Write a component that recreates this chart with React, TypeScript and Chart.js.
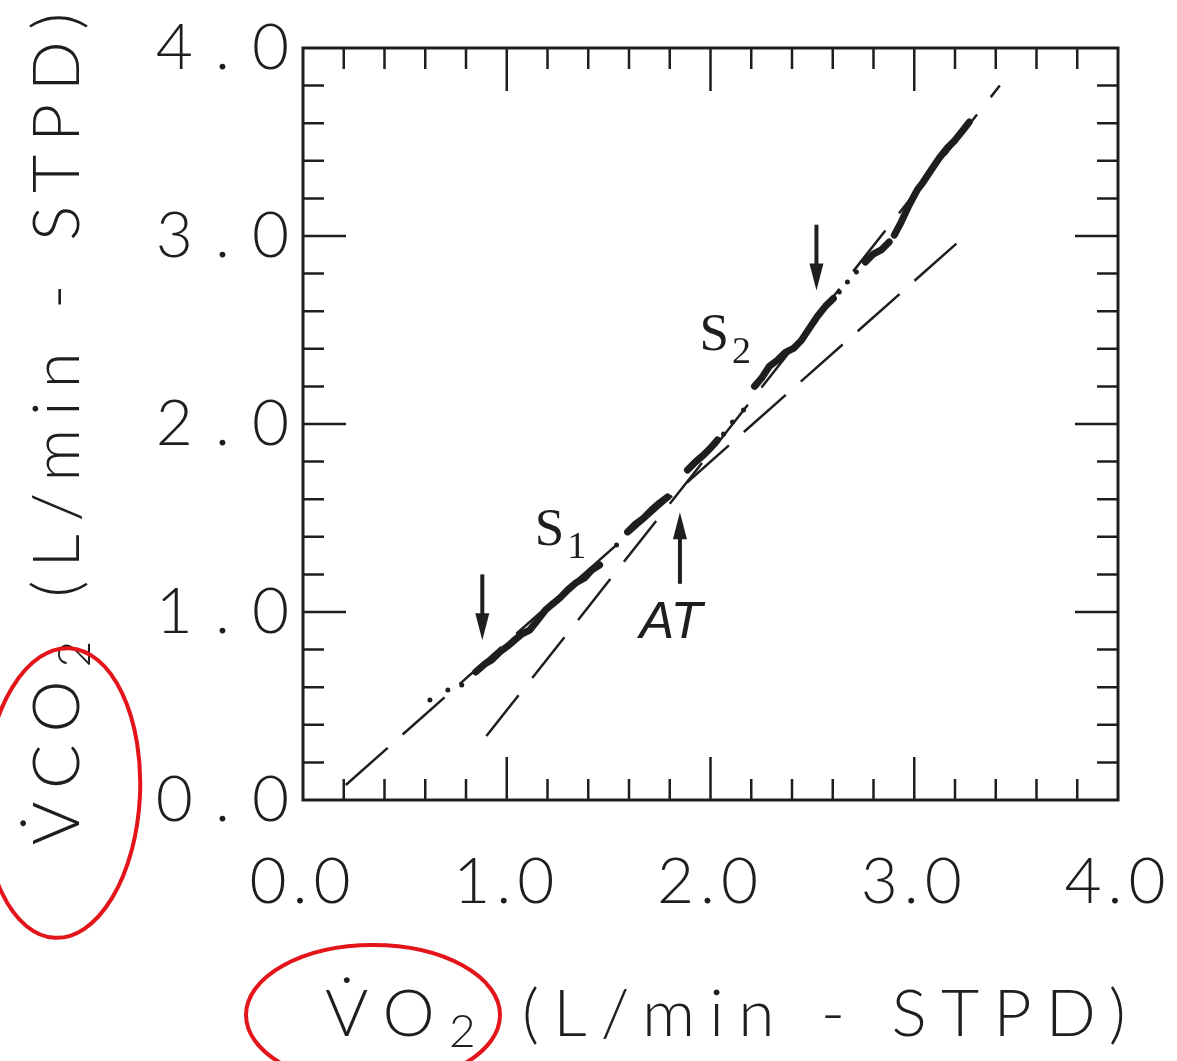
import { useEffect, useRef } from 'react';
import { Chart, registerables } from 'chart.js';

Chart.register(...registerables);

// ---------- axes ----------
const axisMin = 0;
const axisMax = 4;
const majorStep = 1;
const minorStep = 0.2;
const xTickLabels = ['0.0', '1.0', '2.0', '3.0', '4.0'];
const yTickLabels = ['0.0', '1.0', '2.0', '3.0', '4.0'];
// axis titles: [symbol, subscript, unit]
const xTitleParts = ['V\u0307O', '2', ' (L/min - STPD)'];
const yTitleParts = ['V\u0307CO', '2', ' (L/min - STPD)'];

// ---------- regression lines (S1 below AT, S2 above AT) ----------
const s1VO2 = [0.21, 3.27];
const s1VCO2 = [0.08, 3.02];
const s2VO2 = [0.9, 3.42];
const s2VCO2 = [0.34, 3.8];

// ---------- breath-by-breath trace (null = gap) ----------
const traceVO2: (number | null)[] = [
  0.848, 0.892, 0.926, 0.966, 1.005, 1.039, 1.074, 1.113, 1.152, 1.191, 1.225, 1.26, 1.299, 1.338, 1.382, 1.417, 1.456,
  null,
  1.593, 1.632, 1.672, 1.711, 1.75, 1.789,
  null,
  1.887, 1.926, 1.966, 2.005, 2.034,
  null,
  2.216, 2.25, 2.289, 2.328, 2.368, 2.407, 2.446, 2.485, 2.525, 2.564, 2.603,
  null,
  2.76, 2.799, 2.838, 2.877,
  null,
  2.902, 2.936, 2.975, 3.015, 3.044, 3.083, 3.123, 3.162, 3.201, 3.24, 3.27,
];
const traceVCO2: (number | null)[] = [
  0.681, 0.723, 0.745, 0.787, 0.819, 0.851, 0.883, 0.904, 0.957, 1.011, 1.043, 1.074, 1.117, 1.154, 1.181, 1.223, 1.25,
  null,
  1.426, 1.468, 1.5, 1.543, 1.58, 1.612,
  null,
  1.755, 1.798, 1.835, 1.878, 1.915,
  null,
  2.2, 2.243, 2.307, 2.339, 2.381, 2.402, 2.445, 2.509, 2.573, 2.626, 2.668,
  null,
  2.862, 2.904, 2.926, 2.968,
  null,
  3.005, 3.074, 3.165, 3.245, 3.287, 3.351, 3.415, 3.468, 3.511, 3.564, 3.606,
];
const dotVO2 = [0.623, 0.711, 0.779, 1.539, 2.064, 2.108, 2.162, 2.632, 2.672, 2.716];
const dotVCO2 = [0.532, 0.585, 0.612, 1.356, 1.947, 2.011, 2.074, 2.702, 2.755, 2.809];

// ---------- arrows ----------
const arrowVO2 = [0.88, 2.52, 1.85];
const arrowTailVCO2 = [1.2, 3.06, 1.15];
const arrowTipVCO2 = [0.85, 2.71, 1.53];

// ---------- labels ----------
const labelMain = ['S', 'S', 'AT'];
const labelSub = ['1', '2', ''];
const labelVO2 = [1.137, 1.946, 1.652];
const labelVCO2 = [1.356, 2.394, 0.862];

const ink = '#1e1e1e';
const axisFont = 'Lato';

function pts(xs: (number | null)[], ys: (number | null)[]) {
  return xs.map((v, i) => (v === null || ys[i] === null ? { x: NaN, y: NaN } : { x: v as number, y: ys[i] as number }));
}

// draws [main, sub, rest] starting at (0,0) going right, stretched to target width
function drawTitle(ctx: any, parts: string[], target: number) {
  const big = `300 66px ${axisFont}, "DejaVu Sans", sans-serif`;
  const small = `300 46px ${axisFont}, "DejaVu Sans", sans-serif`;
  const runs = [
    { t: parts[0], f: big, dy: 0 },
    { t: parts[1], f: small, dy: 17 },
    { t: parts[2], f: big, dy: 0 },
  ];
  ctx.letterSpacing = '0px';
  let w0 = 0;
  let n = 0;
  runs.forEach((r) => {
    ctx.font = r.f;
    w0 += ctx.measureText(r.t).width;
    n += Array.from(r.t).length;
  });
  const sp = (target - w0) / (n - 1);
  ctx.letterSpacing = sp + 'px';
  ctx.textAlign = 'left';
  ctx.textBaseline = 'middle';
  let x = 0;
  runs.forEach((r) => {
    ctx.font = r.f;
    ctx.fillText(r.t, x, r.dy);
    x += ctx.measureText(r.t).width;
  });
  ctx.letterSpacing = '0px';
}

const framePlugin = {
  id: 'frame',
  beforeDraw(chart: any) {
    const { ctx, width, height } = chart;
    ctx.save();
    ctx.fillStyle = '#ffffff';
    ctx.fillRect(0, 0, width, height);
    ctx.restore();
    const patch = (scale: any, spacing: string) => {
      if (!scale || scale._spacedPatch) return;
      const orig = scale.drawLabels.bind(scale);
      scale.drawLabels = (area: any) => {
        ctx.save();
        ctx.letterSpacing = spacing;
        orig(area);
        ctx.restore();
      };
      scale._spacedPatch = true;
    };
    patch(chart.scales.x, '6px');
    patch(chart.scales.y, '22px');
  },
  beforeDatasetsDraw(chart: any) {
    const { ctx, chartArea: a, scales } = chart;
    const xs = scales.x;
    const ys = scales.y;
    ctx.save();
    ctx.strokeStyle = ink;
    ctx.lineWidth = 3;
    ctx.strokeRect(a.left, a.top, a.right - a.left, a.bottom - a.top);
    ctx.lineWidth = 2.5;
    const n = Math.round((axisMax - axisMin) / minorStep);
    const per = Math.round(majorStep / minorStep);
    ctx.beginPath();
    for (let i = 1; i < n; i++) {
      const v = axisMin + i * minorStep;
      const len = i % per === 0 ? 43 : 21;
      const px = xs.getPixelForValue(v);
      const py = ys.getPixelForValue(v);
      ctx.moveTo(px, a.top);
      ctx.lineTo(px, a.top + len);
      ctx.moveTo(px, a.bottom);
      ctx.lineTo(px, a.bottom - len);
      ctx.moveTo(a.left, py);
      ctx.lineTo(a.left + len, py);
      ctx.moveTo(a.right, py);
      ctx.lineTo(a.right - len, py);
    }
    ctx.stroke();
    ctx.restore();
  },
  afterDatasetsDraw(chart: any) {
    const { ctx, scales } = chart;
    const xs = scales.x;
    const ys = scales.y;
    ctx.save();
    ctx.strokeStyle = ink;
    ctx.fillStyle = ink;
    arrowVO2.forEach((v, i) => {
      const px = xs.getPixelForValue(v);
      const y0 = ys.getPixelForValue(arrowTailVCO2[i]);
      const y1 = ys.getPixelForValue(arrowTipVCO2[i]);
      const dir = y1 > y0 ? 1 : -1;
      const headLen = 27;
      ctx.lineWidth = 4;
      ctx.beginPath();
      ctx.moveTo(px, y0);
      ctx.lineTo(px, y1 - dir * headLen * 0.8);
      ctx.stroke();
      ctx.beginPath();
      ctx.moveTo(px, y1);
      ctx.lineTo(px - 7, y1 - dir * headLen);
      ctx.lineTo(px + 7, y1 - dir * headLen);
      ctx.closePath();
      ctx.fill();
    });
    labelMain.forEach((t, i) => {
      const px = xs.getPixelForValue(labelVO2[i]);
      const py = ys.getPixelForValue(labelVCO2[i]);
      ctx.textAlign = 'left';
      ctx.textBaseline = 'alphabetic';
      if (labelSub[i]) {
        ctx.font = '53px "Liberation Serif", "DejaVu Serif", serif';
        ctx.fillText(t, px, py);
        const w = ctx.measureText(t).width;
        ctx.font = '38px "Liberation Serif", "DejaVu Serif", serif';
        ctx.fillText(labelSub[i], px + w + 3, py + 13);
      } else {
        ctx.font = 'italic 52px "Liberation Sans", Arial, sans-serif';
        ctx.fillText(t, px, py);
      }
    });
    ctx.restore();
  },
  afterDraw(chart: any) {
    const { ctx, chartArea: a } = chart;
    ctx.save();
    ctx.fillStyle = ink;
    // x title: from just right of the y axis to the right edge area
    ctx.save();
    ctx.translate(a.left + 22, a.bottom + 215);
    drawTitle(ctx, xTitleParts, a.right - a.left);
    ctx.restore();
    // y title, reading bottom to top
    ctx.save();
    ctx.translate(a.left - 245, a.bottom + 45);
    ctx.rotate(-Math.PI / 2);
    drawTitle(ctx, yTitleParts, a.bottom + 45);
    ctx.restore();
    // red hand-drawn ellipses
    ctx.strokeStyle = '#e3151a';
    ctx.lineWidth = 4;
    ctx.beginPath();
    ctx.ellipse(a.left - 241, a.bottom - 7, 78, 145, 0.05, 0, Math.PI * 2);
    ctx.stroke();
    ctx.beginPath();
    ctx.ellipse(a.left + 70, a.bottom + 215, 127, 70, 0, 0, Math.PI * 2);
    ctx.stroke();
    ctx.restore();
  },
};

export default function App() {
  const ref = useRef<HTMLCanvasElement | null>(null);
  useEffect(() => {
    if (!ref.current) return;
    const tickFont = { family: axisFont, size: 64, weight: '300' as any };
    const chart = new Chart(ref.current, {
      type: 'scatter',
      data: {
        datasets: [
          {
            label: 'S1',
            data: pts(s1VO2, s1VCO2),
            showLine: true,
            borderColor: ink,
            borderWidth: 2.5,
            borderDash: [56, 20],
            pointRadius: 0,
          },
          {
            label: 'S2',
            data: pts(s2VO2, s2VCO2),
            showLine: true,
            borderColor: ink,
            borderWidth: 2.5,
            borderDash: [52, 22],
            pointRadius: 0,
          },
          {
            label: 'trace',
            data: pts(traceVO2, traceVCO2),
            showLine: true,
            spanGaps: false,
            borderColor: ink,
            borderWidth: 7,
            borderJoinStyle: 'round',
            borderCapStyle: 'round',
            pointRadius: 0,
          },
          {
            label: 'dots',
            data: pts(dotVO2, dotVCO2),
            showLine: false,
            pointRadius: 2.5,
            pointBackgroundColor: ink,
            pointBorderWidth: 0,
          },
        ] as any,
      },
      options: {
        responsive: false,
        animation: false,
        layout: { padding: { top: 48, right: 59, left: 0, bottom: 0 } },
        plugins: { legend: { display: false }, tooltip: { enabled: false } },
        scales: {
          x: {
            type: 'linear',
            min: axisMin,
            max: axisMax,
            grid: { display: false, drawTicks: false },
            border: { display: false },
            ticks: {
              stepSize: majorStep,
              padding: 44,
              color: ink,
              font: tickFont,
              maxRotation: 0,
              autoSkip: false,
              callback: (_v: any, i: number) => xTickLabels[i],
            },
            afterFit: (s: any) => {
              s.height = 261;
              s.paddingLeft = 0;
              s.paddingRight = 0;
            },
          },
          y: {
            type: 'linear',
            min: axisMin,
            max: axisMax,
            grid: { display: false, drawTicks: false },
            border: { display: false },
            ticks: {
              stepSize: majorStep,
              padding: -8,
              color: ink,
              font: tickFont,
              autoSkip: false,
              callback: (_v: any, i: number) => yTickLabels[i],
            },
            afterFit: (s: any) => {
              s.width = 303;
              s.paddingTop = 0;
              s.paddingBottom = 0;
            },
          },
        },
      } as any,
      plugins: [framePlugin as any],
    });
    return () => chart.destroy();
  }, []);
  return (
    <div style={{ position: 'fixed', left: 0, top: 0, width: 1177, height: 1061, background: '#fff' }}>
      <canvas ref={ref} width={1177} height={1061} style={{ display: 'block' }} />
    </div>
  );
}
